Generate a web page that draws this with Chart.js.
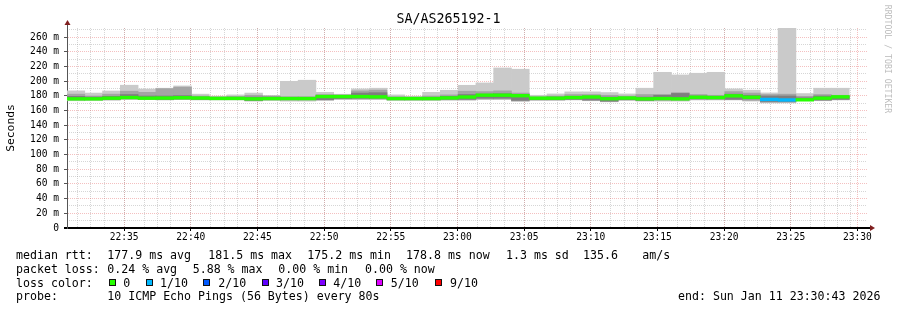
<!DOCTYPE html>
<html>
<head>
<meta charset="utf-8">
<script src="https://cdn.jsdelivr.net/npm/chart.js@4.4.1/dist/chart.umd.min.js"></script>
<style>
html,body{margin:0;padding:0;background:#fff;}
#wrap{position:relative;width:897px;height:310px;overflow:hidden;font-family:"DejaVu Sans Mono",monospace;color:#000;}
#c{position:absolute;left:0;top:0;}
.t{position:absolute;white-space:pre;font-size:11.6px;line-height:14px;height:14px;}
.sq{position:absolute;width:5px;height:5px;border:1px solid #111;}
#title{position:absolute;left:0;top:11px;width:897px;text-align:center;font-size:13.3px;line-height:16px;white-space:pre;}
#ylab{position:absolute;left:-21px;top:121px;width:64px;height:14px;line-height:14px;text-align:center;font-size:11.3px;transform:rotate(-90deg);white-space:pre;}
#wm{position:absolute;left:828px;top:54px;width:120px;height:10px;line-height:10px;text-align:center;font-size:8.2px;color:#bdbdbd;transform:rotate(90deg);white-space:pre;}
</style>
</head>
<body>
<div id="wrap">
<canvas id="c" width="897" height="310"></canvas>
<div id="title">SA/AS265192-1</div>
<div id="ylab">Seconds</div>
<div id="wm">RRDTOOL / TOBI OETIKER</div>
<div id="footer"></div>
</div>
<script>
// ---- data ----
const stepStarts = ['22:30:43','22:32:03','22:33:23','22:34:43','22:36:03','22:37:23','22:38:43','22:40:03','22:41:23','22:42:43',
  '22:44:03','22:45:23','22:46:43','22:48:03','22:49:23','22:50:43','22:52:03','22:53:23','22:54:43','22:56:03',
  '22:57:23','22:58:43','23:00:03','23:01:23','23:02:43','23:04:03','23:05:23','23:06:43','23:08:03','23:09:23',
  '23:10:43','23:12:03','23:13:23','23:14:43','23:16:03','23:17:23','23:18:43','23:20:03','23:21:23','23:22:43',
  '23:24:03','23:25:23','23:26:43','23:28:03'];
const stepSeconds = 80;
const rangeStart = '22:30:43';
const rangeEnd = '23:30:43';

const pingMin = [173.5,174.0,174.0,175.0,175.0,174.5,175.0,174.5,174.5,174.5,
  173.0,174.0,173.0,173.0,174.0,175.0,175.0,175.0,174.0,174.0,
  174.0,174.0,174.0,175.0,175.0,172.5,174.0,174.0,174.5,173.5,
  172.0,174.0,173.0,173.0,173.0,174.5,174.5,174.5,173.0,170.5,
  170.5,173.5,173.5,174.5];
const ping2 = [174.5,174.5,175.0,176.0,175.5,175.0,175.5,175.0,175.0,175.0,
  173.5,174.5,174.5,174.5,174.5,176.0,176.0,176.0,174.5,174.5,
  174.5,175.0,175.0,176.0,176.0,173.5,174.5,174.5,175.0,174.0,
  172.5,174.5,173.5,174.0,174.0,175.5,175.5,175.0,174.0,171.5,
  171.5,174.0,174.0,175.0];
const ping3 = [175.0,175.0,175.5,176.5,176.0,175.5,176.0,175.5,175.5,175.5,
  174.0,175.0,175.0,175.0,175.0,176.5,177.0,177.0,175.0,175.0,
  175.0,175.5,175.5,177.0,177.0,174.0,175.0,175.0,175.5,174.5,
  173.0,175.0,174.0,175.0,175.0,176.0,176.0,175.5,176.0,172.5,
  172.5,174.5,174.5,175.5];
const median = [176.1,176.1,177.0,177.9,177.0,177.2,177.6,177.2,176.7,176.7,
  176.1,176.5,176.5,176.5,179.2,179.2,179.2,178.8,176.5,176.5,
  176.5,177.4,178.6,181.1,181.1,180.4,177.0,177.0,177.9,178.6,
  176.3,177.2,176.1,176.5,176.1,178.3,177.9,180.2,178.3,175.3,
  174.6,174.8,177.0,178.8];
const ping8 = [179.5,178.5,179.5,182.0,180.0,180.0,180.5,178.5,177.8,178.0,
  178.5,178.5,177.8,177.8,180.5,180.5,184.0,184.5,178.0,177.5,
  178.0,179.5,182.0,182.5,183.0,182.0,178.0,178.5,179.5,180.0,
  178.5,178.5,178.5,181.0,183.5,180.0,179.5,182.5,181.0,180.0,
  180.0,177.5,180.0,180.0];
const ping9 = [182.5,180.0,182.5,186.5,185.0,190.0,192.0,180.0,178.8,179.5,
  181.0,180.0,179.0,179.0,182.0,181.5,187.0,188.0,179.0,178.5,
  180.0,181.5,186.5,186.0,187.0,184.0,179.0,180.0,182.0,182.0,
  181.0,180.0,182.0,182.0,184.5,182.0,181.0,186.0,184.0,182.0,
  182.5,179.5,182.0,181.0];
const pingMax = [187.0,184.0,186.8,194.7,189.5,190.6,193.7,182.5,179.8,181.5,
  184.0,180.6,200.0,201.5,185.0,182.4,189.7,190.6,181.5,179.7,
  185.0,187.8,194.6,197.8,218.2,216.5,181.0,182.8,185.6,185.6,
  184.7,182.8,190.6,212.3,208.7,211.0,212.3,189.7,187.9,184.2,
  272.7,183.3,190.6,190.6];
const lossCount = [0,0,0,0,0,0,0,0,0,0, 0,0,0,0,0,0,0,0,0,0, 0,0,0,0,0,0,0,0,0,0,
  0,0,0,0,0,0,0,0,0,1, 1,0,0,0];

const lossLevels = [0,1,2,3,4,5,9];
const lossLevelLabels = ['0','1/10','2/10','3/10','4/10','5/10','9/10'];
const lossLevelColors = ['#26ff00','#00b8ff','#0059ff','#5e00ff','#7e00ff','#dd00ff','#ff0000'];

const xTickLabels = ['22:35','22:40','22:45','22:50','22:55','23:00','23:05','23:10','23:15','23:20','23:25','23:30'];
const yTickValues = [0,20,40,60,80,100,120,140,160,180,200,220,240,260];
const yMinorValues = [10,30,50,70,90,110,130,150,170,190,210,230,250,270];
const yMax = 272.7;

const statsRows = [
  {label:'median rtt:', items:['177.9 ms avg','181.5 ms max','175.2 ms min','178.8 ms now','1.3 ms sd','135.6','am/s']},
  {label:'packet loss:', items:['0.24 % avg','5.88 % max','0.00 % min','0.00 % now']},
  {label:'probe:', items:['10 ICMP Echo Pings (56 Bytes) every 80s','end: Sun Jan 11 23:30:43 2026']}
];

// ---- helpers / styles ----
const toSec = s => { const p = s.split(':').map(Number); return p[0]*3600 + p[1]*60 + (p[2]||0); };
const t0 = toSec(rangeStart), t1 = toSec(rangeEnd);
const lossColor = l => { let c = lossLevelColors[0]; lossLevels.forEach((lv,i)=>{ if (l >= lv) c = lossLevelColors[i]; }); return c; };
const medianHalf = 1.85;
const MONO = '"DejaVu Sans Mono", monospace';
const majorGrid = 'rgba(222,60,60,0.32)';
const minorGrid = 'rgba(140,140,140,0.36)';

const minorX = [];
for (let m = Math.ceil(t0/60)*60; m <= t1; m += 60) { if (m % 300 !== 0) minorX.push(m); }

const band = (lo, hi) => stepStarts.map((s,i)=>({x: toSec(s) + stepSeconds/2, y: [lo[i], hi[i]]}));
const barCommon = {type:'bar', grouped:false, barPercentage:1, categoryPercentage:1, borderWidth:0, xAxisID:'x', yAxisID:'y'};

const datasets = [
  Object.assign({label:'median', data: stepStarts.map((s,i)=>({x: toSec(s)+stepSeconds/2, y:[median[i]-medianHalf, median[i]+medianHalf]})),
    backgroundColor: lossCount.map(lossColor)}, barCommon),
  Object.assign({label:'ping 3-8', data: band(ping3, ping8), backgroundColor:'#7e7e7e'}, barCommon),
  Object.assign({label:'ping 2-9', data: band(ping2, ping9), backgroundColor:'#a4a4a4'}, barCommon),
  Object.assign({label:'ping 1-10', data: band(pingMin, pingMax), backgroundColor:'#cacaca'}, barCommon)
];

const arrows = {
  id:'arrows',
  afterDraw(chart){
    const {ctx, chartArea:a} = chart;
    ctx.save();
    ctx.strokeStyle = '#555'; ctx.lineWidth = 1;
    ctx.beginPath(); ctx.moveTo(Math.round(a.left)+0.5, a.top); ctx.lineTo(Math.round(a.left)+0.5, a.top-4); ctx.stroke();
    ctx.strokeStyle = '#000'; ctx.lineWidth = 2;
    ctx.beginPath(); ctx.moveTo(a.left-3, a.bottom); ctx.lineTo(a.left, a.bottom); ctx.moveTo(a.right, a.bottom); ctx.lineTo(a.right+3, a.bottom); ctx.stroke();
    ctx.fillStyle = '#801f1f';
    const cx = Math.round(a.left)+0.5;
    ctx.beginPath(); ctx.moveTo(cx, a.top-8); ctx.lineTo(cx-3, a.top-3); ctx.lineTo(cx+3, a.top-3); ctx.closePath(); ctx.fill();
    ctx.beginPath(); ctx.moveTo(a.right+8, a.bottom); ctx.lineTo(a.right+3, a.bottom-3); ctx.lineTo(a.right+3, a.bottom+3); ctx.closePath(); ctx.fill();
    ctx.restore();
  }
};

new Chart(document.getElementById('c'), {
  type:'bar',
  data:{datasets},
  options:{
    responsive:false, animation:false, devicePixelRatio:1,
    layout:{padding:{left:0, top:28, right:30, bottom:0}},
    plugins:{legend:{display:false}, tooltip:{enabled:false}, title:{display:false}},
    scales:{
      x:{type:'linear', position:'bottom', min:t0, max:t1, offset:false, z:1,
        afterBuildTicks: s => { s.ticks = xTickLabels.map(l => ({value: toSec(l)})); },
        afterFit: s => { s.height = 82; s.paddingLeft = 0; s.paddingRight = 0; },
        ticks:{autoSkip:false, maxRotation:0, padding:1, color:'#000', font:{family:MONO, size:9.6},
          callback:(v,i)=> xTickLabels[i]},
        grid:{color:majorGrid, lineWidth:1, offset:false, drawTicks:true, tickLength:3, tickColor:'#000'},
        border:{display:true, color:'#000', width:2, dash:[1,1]}},
      x2:{type:'linear', position:'top', min:t0, max:t1, offset:false, z:1,
        afterBuildTicks: s => { s.ticks = minorX.map(v => ({value:v})); },
        afterFit: s => { s.height = 0; s.paddingLeft = 0; s.paddingRight = 0; },
        ticks:{display:false},
        grid:{color:minorGrid, lineWidth:1, drawTicks:false},
        border:{display:false, dash:[1,1]}},
      y:{type:'linear', position:'left', min:0, max:yMax, z:1,
        afterBuildTicks: s => { s.ticks = yTickValues.map(v => ({value:v})); },
        afterFit: s => { s.width = 67; s.paddingTop = 0; s.paddingBottom = 0; },
        ticks:{padding:5, color:'#000', font:{family:MONO, size:9.6}, callback: v => v === 0 ? '0' : v + ' m'},
        grid:{color: c => (c.tick && c.tick.value === 0) ? 'rgba(0,0,0,0)' : majorGrid, lineWidth:1, drawTicks:true, tickLength:3, tickColor:'#555'},
        border:{display:true, color:'#555', width:1, dash:[1,1]}},
      y2:{type:'linear', position:'right', min:0, max:yMax, z:1,
        afterBuildTicks: s => { s.ticks = yMinorValues.map(v => ({value:v})); },
        afterFit: s => { s.width = 0; s.paddingTop = 0; s.paddingBottom = 0; },
        ticks:{display:false},
        grid:{color:minorGrid, lineWidth:1, drawTicks:false},
        border:{display:false, dash:[1,1]}}
    }
  },
  plugins:[arrows]
});

// ---- footer text ----
const footer = document.getElementById('footer');
const addText = (txt, left, top) => { const d = document.createElement('div'); d.className='t'; d.textContent = txt; d.style.left = left+'px'; d.style.top = top+'px'; footer.appendChild(d); };
const row1X = [107.3,208.3,307.3,406,506,583,642.3];
const row2X = [107.3,192.7,278.3,365];
const row4X = [107.3,678];
addText(statsRows[0].label, 16, 248); statsRows[0].items.forEach((s,i)=>addText(s,row1X[i],248));
addText(statsRows[1].label, 16, 261.5); statsRows[1].items.forEach((s,i)=>addText(s,row2X[i],261.5));
addText('loss color:', 16, 275.5);
const sqX = [108.7,146,203.3,261.7,319.3,376,435];
const lblX = [123.3,160,218.3,276,333.3,390.7,450];
lossLevelLabels.forEach((l,i)=>{
  const q = document.createElement('div'); q.className='sq'; q.style.left = sqX[i]+'px'; q.style.top='279px'; q.style.background = lossLevelColors[i]; footer.appendChild(q);
  addText(l, lblX[i], 275.5);
});
addText(statsRows[2].label, 16, 289); statsRows[2].items.forEach((s,i)=>addText(s,row4X[i],289));
</script>
</body>
</html>
